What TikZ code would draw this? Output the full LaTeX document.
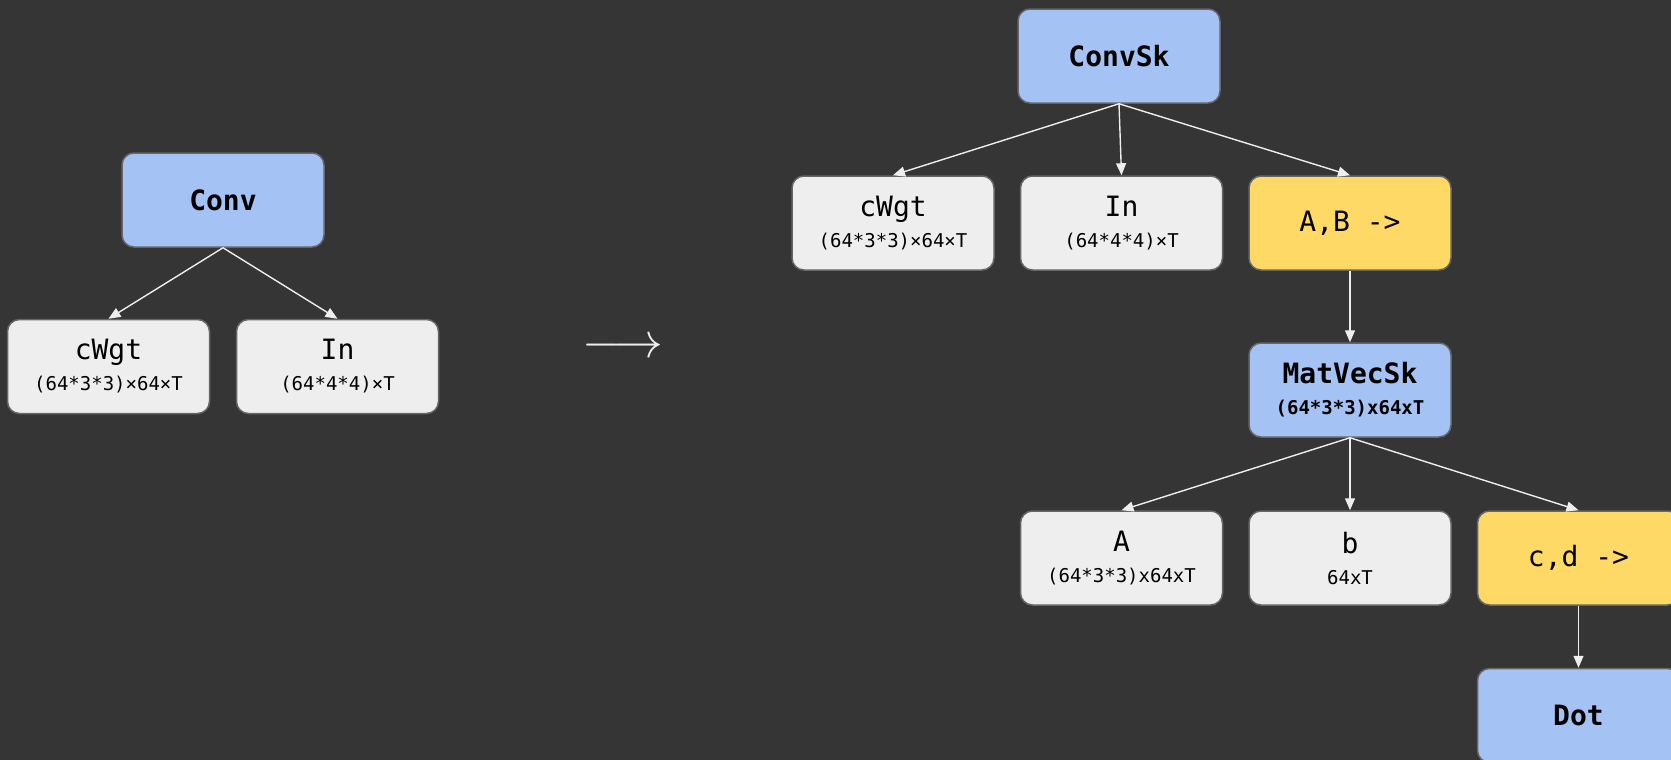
\documentclass[tikz,border=0pt]{standalone}
\usepackage{fontspec}
\setmainfont{DejaVu Sans Mono}
\usetikzlibrary{arrows.meta}

\definecolor{bg}{HTML}{353535}
\definecolor{opblue}{HTML}{A4C2F4}
\definecolor{opyellow}{HTML}{FFD966}
\definecolor{opgray}{HTML}{EEEEEE}
\definecolor{rim}{HTML}{666666}

\tikzset{
box/.style={rectangle, rounded corners=6pt, draw=rim, line width=0.75pt, minimum width=101pt, minimum height=47pt, align=center, text=black, font=\fontsize{14}{15.5}\selectfont},
opbox/.style={box, fill=opblue, font=\fontsize{14}{15.5}\selectfont\bfseries},
tenbox/.style={box, fill=opgray},
idxbox/.style={box, fill=opyellow},
link/.style={-{Triangle[length=6pt,width=5pt]}, draw=opgray, line width=0.7pt},
}
\newcommand{\dimtext}[1]{{\fontsize{9.5}{11}\selectfont #1}}

\begin{document}
\begin{tikzpicture}[x=0.5pt,y=-0.5pt]
\clip (0,0) rectangle (1671,760);
\fill[bg] (0,0) rectangle (1671,760);

\draw 

(223, 200) node[opbox](conv){Conv}
(108.5, 366.5) node[tenbox](wl){cWgt\\\dimtext{(64*3*3)×64×T}}
(337.5, 366.5) node[tenbox](il){In\\\dimtext{(64*4*4)×T}};

\node[text=opgray, font=\fontsize{27}{30}\selectfont] (to) at (623, 348) {$\longrightarrow$};

\draw 

(1119, 56) node[opbox](convsk){ConvSk}
(893, 223) node[tenbox](wr){cWgt\\\dimtext{(64*3*3)×64×T}}
(1121.5, 223) node[tenbox](ir){In\\\dimtext{(64*4*4)×T}}
(1350, 223) node[idxbox](ab){A,B ->}
(1350, 390) node[opbox](mv){MatVecSk\\\dimtext{(64*3*3)x64xT}}
(1121.5, 558) node[tenbox](ma){A\\\dimtext{(64*3*3)x64xT}}
(1350, 558) node[tenbox](vb){b\\\dimtext{64xT}}
(1578.5, 558) node[idxbox](cd){c,d ->}
(1578.5, 715.5) node[opbox](dot){Dot};



\draw[link] (conv.south) -- (wl.north);
\draw[link] (conv.south) -- (il.north);

\draw[link] (convsk.south) -- (wr.north);
\draw[link] (convsk.south) -- (ir.north);
\draw[link] (convsk.south) -- (ab.north);
\draw[link] (ab.south) -- (mv.north);
\draw[link] (mv.south) -- (ma.north);
\draw[link] (mv.south) -- (vb.north);
\draw[link] (mv.south) -- (cd.north);
\draw[link] (cd.south) -- (dot.north);


\end{tikzpicture}
\end{document}
